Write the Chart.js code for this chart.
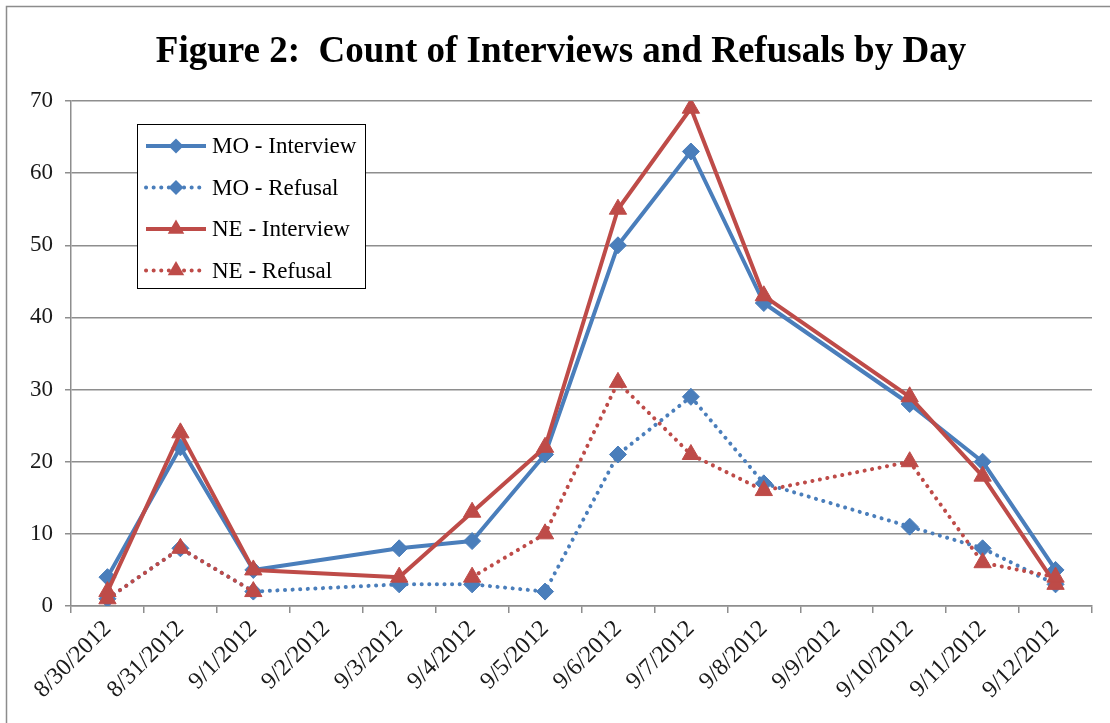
<!DOCTYPE html>
<html>
<head>
<meta charset="utf-8">
<title>Figure 2: Count of Interviews and Refusals by Day</title>
<script src="https://cdn.jsdelivr.net/npm/chart.js@4.4.1/dist/chart.umd.min.js"></script>
<style>
  html, body { margin: 0; padding: 0; background: #fff; }
  #wrap { position: relative; width: 1110px; height: 723px; }
</style>
</head>
<body>
<div id="wrap"><canvas id="chart"></canvas></div>
<script>
// Days on the axis (9/2 and 9/9 have no rows in the sheet, lines run across them)
const days = [
  "8/30/2012", "8/31/2012", "9/1/2012", "9/2/2012", "9/3/2012", "9/4/2012", "9/5/2012",
  "9/6/2012", "9/7/2012", "9/8/2012", "9/9/2012", "9/10/2012", "9/11/2012", "9/12/2012"
];
const daysWithoutRows = ["9/2/2012", "9/9/2012"];

const moInterview = [4, 22, 5, null, 8, 9, 21, 50, 63, 42, null, 28, 20, 5];
const moRefusal   = [1, 8, 2, null, 3, 3, 2, 21, 29, 17, null, 11, 8, 3];
const neInterview = [2, 24, 5, null, 4, 13, 22, 55, 69, 43, null, 29, 18, 3];
const neRefusal   = [1, 8, 2, null, null, 4, 10, 31, 21, 16, null, 20, 6, 4];

const yTicks = [0, 10, 20, 30, 40, 50, 60, 70];

const COLORS = {
  blue: "#4a7ebb",
  red: "#be4b48",
  grid: "#8e8e8e",
  text: "#1a1a1a"
};

const SERIF = "'Liberation Serif', 'Times New Roman', serif";

/** pontos {x, y}; dias sem linha na planilha ficam de fora, células vazias viram lacuna */
function toPoints(values) {
  return days
    .map((d, i) => ({ x: d, y: values[i] }))
    .filter((p) => !daysWithoutRows.includes(p.x));
}

function lineDataset(label, values, color, dotted, marker, order) {
  return {
    label,
    data: toPoints(values),
    borderColor: color,
    backgroundColor: color,
    borderWidth: 4,
    borderDash: dotted ? [0.1, 7.5] : [],
    borderCapStyle: dotted ? "round" : "butt",
    borderJoinStyle: "round",
    pointStyle: marker,
    pointRadius: marker === "triangle" ? 10 : 8.5,
    pointBorderWidth: 1,
    pointBorderColor: color,
    pointBackgroundColor: color,
    spanGaps: false,
    tension: 0,
    order
  };
}

// moldura externa + título
const framePlugin = {
  id: "frame",
  beforeDraw(chart) {
    const ctx = chart.ctx;
    ctx.save();
    ctx.fillStyle = "#fff";
    ctx.fillRect(0, 0, chart.width, chart.height);
    ctx.strokeStyle = "#8c8c8c";
    ctx.lineWidth = 1.5;
    ctx.strokeRect(6.5, 6.5, 1300, 900);
    ctx.restore();
  },
  afterDraw(chart) {
    const ctx = chart.ctx;
    ctx.save();
    ctx.font = "bold 37px " + SERIF;
    ctx.fillStyle = "#000";
    ctx.textAlign = "center";
    ctx.textBaseline = "alphabetic";
    ctx.fillText("Figure 2:  Count of Interviews and Refusals by Day", 561, 62);
    ctx.restore();
  }
};

function drawMarker(ctx, style, x, y, r) {
  ctx.beginPath();
  if (style === "triangle") {
    ctx.moveTo(x, y - r);
    ctx.lineTo(x + r * 0.87, y + r * 0.5);
    ctx.lineTo(x - r * 0.87, y + r * 0.5);
  } else {
    ctx.moveTo(x, y - r);
    ctx.lineTo(x + r, y);
    ctx.lineTo(x, y + r);
    ctx.lineTo(x - r, y);
  }
  ctx.closePath();
  ctx.fill();
}

// legenda dentro da área do gráfico
const boxLegendPlugin = {
  id: "boxLegend",
  afterDatasetsDraw(chart) {
    const ctx = chart.ctx;
    const box = { x: 137, y: 124, w: 228, h: 164 };
    ctx.save();
    ctx.fillStyle = "#fff";
    ctx.fillRect(box.x, box.y, box.w, box.h);
    ctx.strokeStyle = "#000";
    ctx.lineWidth = 1;
    ctx.strokeRect(box.x + 0.5, box.y + 0.5, box.w, box.h);

    ctx.font = "23px " + SERIF;
    ctx.textBaseline = "middle";
    chart.data.datasets.forEach((ds, i) => {
      const cy = 146 + i * 41.5;
      ctx.strokeStyle = ds.borderColor;
      ctx.fillStyle = ds.borderColor;
      ctx.lineWidth = ds.borderWidth;
      ctx.lineCap = ds.borderCapStyle;
      ctx.setLineDash(ds.borderDash);
      ctx.beginPath();
      ctx.moveTo(146, cy);
      ctx.lineTo(206, cy);
      ctx.stroke();
      ctx.setLineDash([]);
      drawMarker(ctx, ds.pointStyle, 176, cy, ds.pointStyle === "triangle" ? 9.5 : 7.5);
      ctx.fillStyle = "#000";
      ctx.fillText(ds.label, 212, cy + 1);
    });
    ctx.restore();
  }
};

new Chart(document.getElementById("chart"), {
  type: "line",
  data: {
    labels: days,
    datasets: [
      lineDataset("MO - Interview", moInterview, COLORS.blue, false, "rectRot", 4),
      lineDataset("MO - Refusal", moRefusal, COLORS.blue, true, "rectRot", 3),
      lineDataset("NE - Interview", neInterview, COLORS.red, false, "triangle", 2),
      lineDataset("NE - Refusal", neRefusal, COLORS.red, true, "triangle", 1)
    ]
  },
  options: {
    responsive: true,
    maintainAspectRatio: false,
    animation: false,
    layout: { padding: { left: 0, right: 18, top: 101, bottom: 0 } },
    plugins: {
      legend: { display: false },
      title: { display: false },
      tooltip: { enabled: false }
    },
    scales: {
      x: {
        type: "category",
        offset: true,
        grid: {
          offset: true,
          drawOnChartArea: false,
          drawTicks: true,
          tickLength: 7,
          color: COLORS.grid,
          lineWidth: 1.5
        },
        border: { color: COLORS.grid, width: 1.5 },
        ticks: {
          autoSkip: false,
          maxRotation: 45,
          minRotation: 45,
          padding: 2,
          color: COLORS.text,
          font: { family: SERIF, size: 24 }
        },
        afterFit(scale) { scale.height = 117; }
      },
      y: {
        min: 0,
        max: 70,
        afterBuildTicks(scale) { scale.ticks = yTicks.map((v) => ({ value: v })); },
        grid: {
          color: COLORS.grid,
          lineWidth: 1.5,
          drawTicks: true,
          tickLength: 6
        },
        border: { color: COLORS.grid, width: 1.5 },
        ticks: {
          padding: 12,
          color: COLORS.text,
          font: { family: SERIF, size: 23 }
        },
        afterFit(scale) { scale.width = 71; }
      }
    }
  },
  plugins: [framePlugin, boxLegendPlugin]
});
</script>
</body>
</html>
